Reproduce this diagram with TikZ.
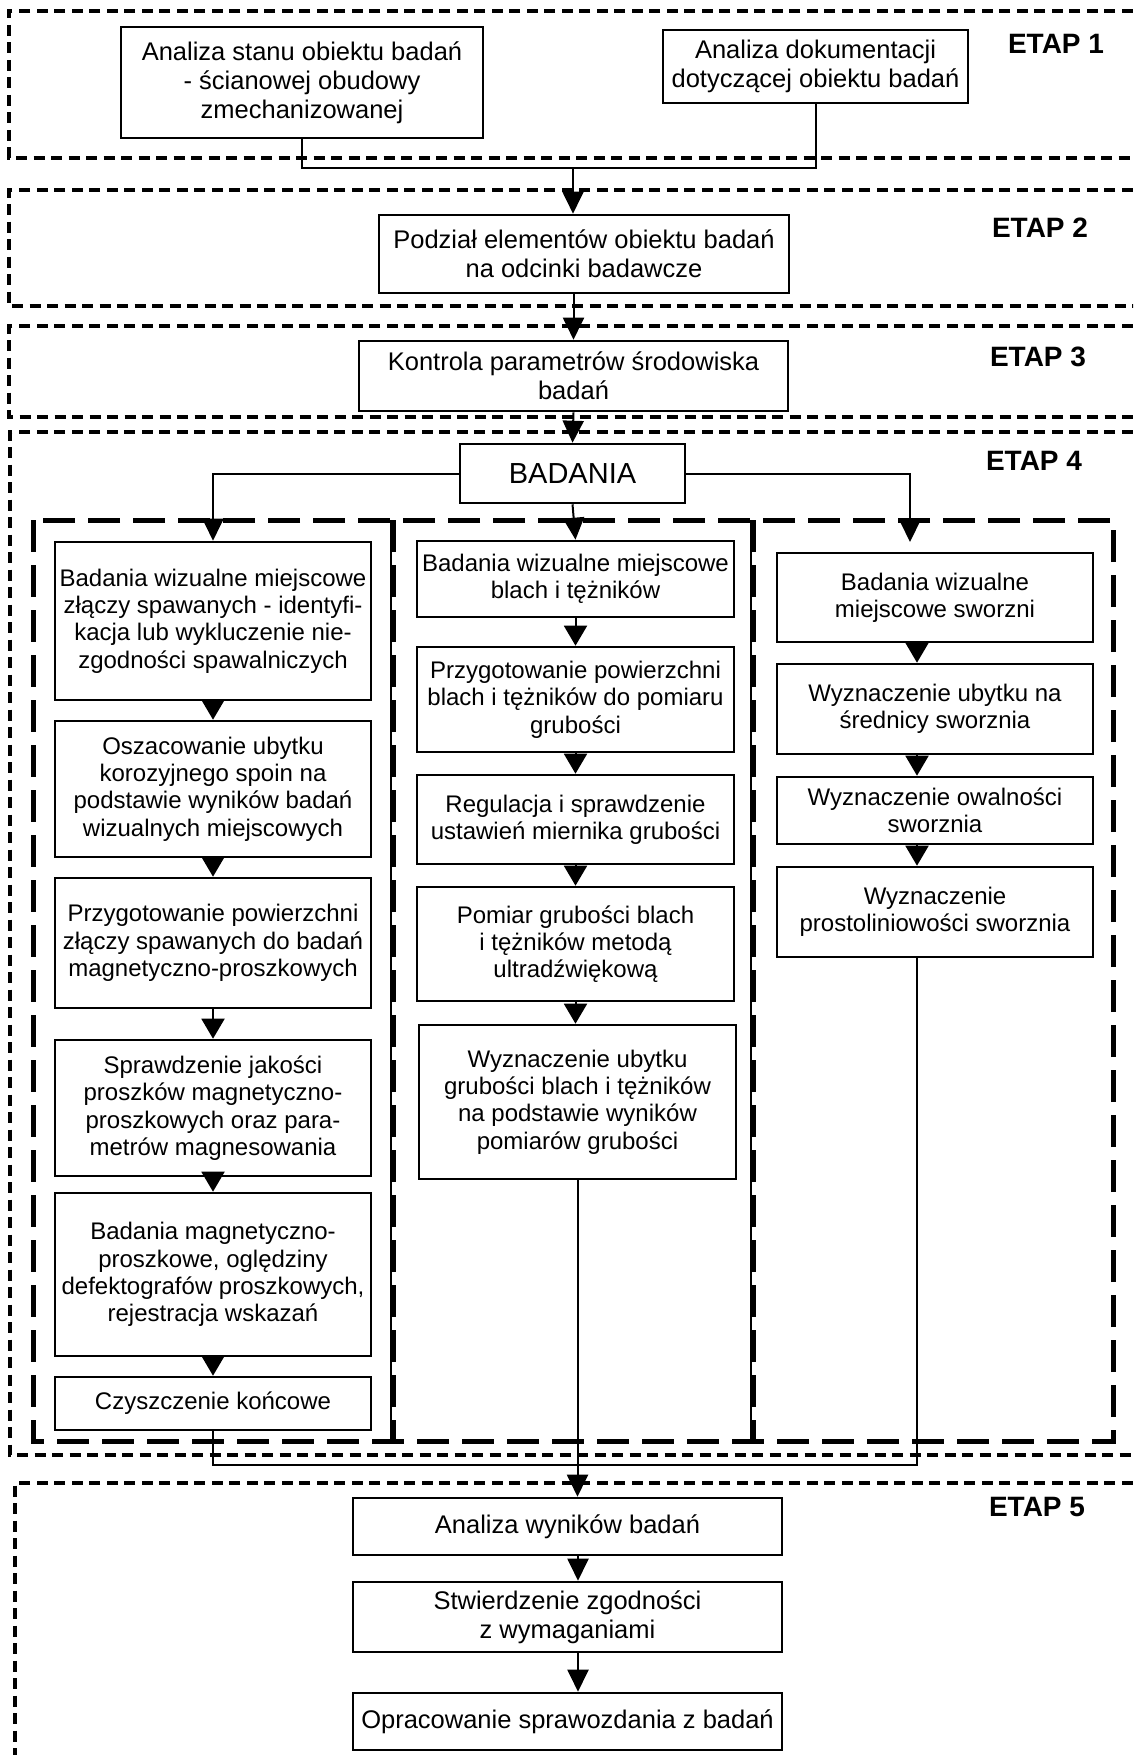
\documentclass[tikz,border=0pt]{standalone}
\usepackage{fontspec}
\setmainfont{Liberation Sans}
\usetikzlibrary{arrows.meta,calc}
\begin{document}
\begin{tikzpicture}[x=1pt,y=-1pt,
  box/.style={draw, line width=2.6pt, inner sep=0pt, align=center, font=\fontsize{25.5}{28.8}\selectfont},
  cbox/.style={box, minimum width=316pt, font=\fontsize{24}{27.3}\selectfont},
  stage/.style={draw, line width=3.3pt, dash pattern=on 11pt off 6.5pt},
  heavy/.style={draw, line width=5pt, dash pattern=on 32pt off 13pt},
  conn/.style={line width=2pt},
  big/.style={conn, -{Triangle[length=22pt,width=21pt]}},
  small/.style={conn, -{Triangle[length=20pt,width=23pt]}},
  etap/.style={font=\fontsize{28}{30}\selectfont\bfseries, inner sep=0pt}
]
\useasboundingbox (0,0) rectangle (1133,1755);
\clip (0,0) rectangle (1133,1755);

% stage frames
\draw[stage] (1150,11) -- (9,11) -- (9,158) -- (1150,158);
\draw[stage] (1150,190) -- (9,190) -- (9,306) -- (1150,306);
\draw[stage] (1150,326) -- (9,326) -- (9,417) -- (1150,417);
\draw[stage] (1150,432) -- (10,432) -- (10,1455) -- (1150,1455);
\draw[stage] (1150,1483) -- (15,1483) -- (15,1780);

% heavy frame and separators
\draw[heavy] (33,520) rectangle (1113,1441);
\draw[line width=2pt] (391,520) -- (391,1441);
\draw[heavy] (393,520) -- (393,1441);
\draw[line width=2pt] (751,520) -- (751,1441);
\draw[heavy] (753,520) -- (753,1441);

% stage labels
\node[etap] (e1) at (1056,44) {ETAP 1};
\node[etap] (e2) at (1040,228) {ETAP 2};
\node[etap] (e3) at (1038,357) {ETAP 3};
\node[etap] (e4) at (1034,461) {ETAP 4};
\node[etap] (e5) at (1037,1507) {ETAP 5};

% top boxes
\node[box, minimum width=362pt, minimum height=111pt] (A) at (302,82.5) {Analiza stanu obiektu badań\\- ścianowej obudowy\\zmechanizowanej};
\node[box, minimum width=305pt, minimum height=73pt] (B) at (815.5,66.5) {Analiza dokumentacji\\dotyczącej obiektu badań};
\node[box, minimum width=410pt, minimum height=78pt] (C) at (584,254) {Podział elementów obiektu badań\\na odcinki badawcze};
\node[box, minimum width=429pt, minimum height=70pt] (D) at (573.5,376) {Kontrola parametrów środowiska\\badań};
\node[box, minimum width=225pt, minimum height=59pt, font=\fontsize{29}{31}\selectfont] (BAD) at (572.5,473.5) {BADANIA};

% left column
\node[cbox, minimum height=158pt] (L1) at (213,621) {Badania wizualne miejscowe\\złączy spawanych - identyfi-\\kacja lub wykluczenie nie-\\zgodności spawalniczych};
\node[cbox, minimum height=136pt] (L2) at (213,789) {Oszacowanie ubytku\\korozyjnego spoin na\\podstawie wyników badań\\wizualnych miejscowych};
\node[cbox, minimum height=130pt] (L3) at (213,943) {Przygotowanie powierzchni\\złączy spawanych do badań\\magnetyczno-proszkowych};
\node[cbox, minimum height=136pt] (L4) at (213,1108) {Sprawdzenie jakości\\proszków magnetyczno-\\proszkowych oraz para-\\metrów magnesowania};
\node[cbox, minimum height=163pt] (L5) at (213,1274.5) {Badania magnetyczno-\\proszkowe, oględziny\\defektografów proszkowych,\\rejestracja wskazań};
\node[cbox, minimum height=53pt] (L6) at (213,1403.5) {Czyszczenie końcowe};

% middle column
\node[cbox, minimum width=317pt, minimum height=76pt] (M1) at (575.5,579) {Badania wizualne miejscowe\\blach i tężników};
\node[cbox, minimum width=317pt, minimum height=105pt] (M2) at (575.5,699.5) {Przygotowanie powierzchni\\blach i tężników do pomiaru\\grubości};
\node[cbox, minimum width=317pt, minimum height=89pt] (M3) at (575.5,819.5) {Regulacja i sprawdzenie\\ustawień miernika grubości};
\node[cbox, minimum width=317pt, minimum height=114pt] (M4) at (575.5,944) {Pomiar grubości blach\\i tężników metodą\\ultradźwiękową};
\node[cbox, minimum width=317pt, minimum height=154pt] (M5) at (577.5,1102) {Wyznaczenie ubytku\\grubości blach i tężników\\na podstawie wyników\\pomiarów grubości};

% right column
\node[cbox, minimum height=89pt] (R1) at (935,597.5) {Badania wizualne\\miejscowe sworzni};
\node[cbox, minimum height=90pt] (R2) at (935,709) {Wyznaczenie ubytku na\\średnicy sworznia};
\node[cbox, minimum height=67pt] (R3) at (935,810.5) {Wyznaczenie owalności\\sworznia};
\node[cbox, minimum height=90pt] (R4) at (935,912) {Wyznaczenie\\prostoliniowości sworznia};

% bottom boxes
\node[box, minimum width=429pt, minimum height=57pt] (E) at (567.5,1526.5) {Analiza wyników badań};
\node[box, minimum width=429pt, minimum height=70pt] (F) at (567.5,1617) {Stwierdzenie zgodności\\z wymaganiami};
\node[box, minimum width=429pt, minimum height=57pt] (G) at (567.5,1721.5) {Opracowanie sprawozdania z badań};

% top connectors
\coordinate (j1) at (573,168);
\draw[conn] (A.south) |- (j1);
\draw[conn] (B.south) |- (j1);
\draw[big] (j1) -- (j1 |- C.north);
\draw[big] (D.north |- C.south) -- (D.north);
\draw[big] (D.south) -- (BAD.north);

% from BADANIA
\coordinate (r1in) at (910,542);
\draw[big] (BAD.west) -| (L1.north);
\draw[big] (BAD.south) -- (M1.north);
\draw[big] (BAD.east) -| (r1in);

% column arrows
\draw[small] (L1.south) -- (L2.north);
\draw[small] (L2.south) -- (L3.north);
\draw[small] (L3.south) -- (L4.north);
\draw[small] (L4.south) -- (L5.north);
\draw[small] (L5.south) -- (L6.north);
\draw[small] (M1.south) -- (M2.north);
\draw[small] (M2.south) -- (M3.north);
\draw[small] (M3.south) -- (M4.north);
\draw[small] (M4.south) -- (M4.south |- M5.north);
\draw[small] ([xshift=-18pt]R1.south) -- ([xshift=-18pt]R2.north);
\draw[small] ([xshift=-18pt]R2.south) -- ([xshift=-18pt]R3.north);
\draw[small] ([xshift=-18pt]R3.south) -- ([xshift=-18pt]R4.north);

% bottom merge
\coordinate (j2) at (577.5,1465);
\draw[conn] (L6.south) |- (j2);
\draw[conn] ([xshift=-18pt]R4.south) |- (j2);
\draw[big] (M5.south) -- (M5.south |- E.north);
\draw[big] ([xshift=10.5pt]E.south) -- ([xshift=10.5pt]F.north);
\draw[big] ([xshift=10.5pt]F.south) -- ([xshift=10.5pt]G.north);
\end{tikzpicture}
\end{document}
